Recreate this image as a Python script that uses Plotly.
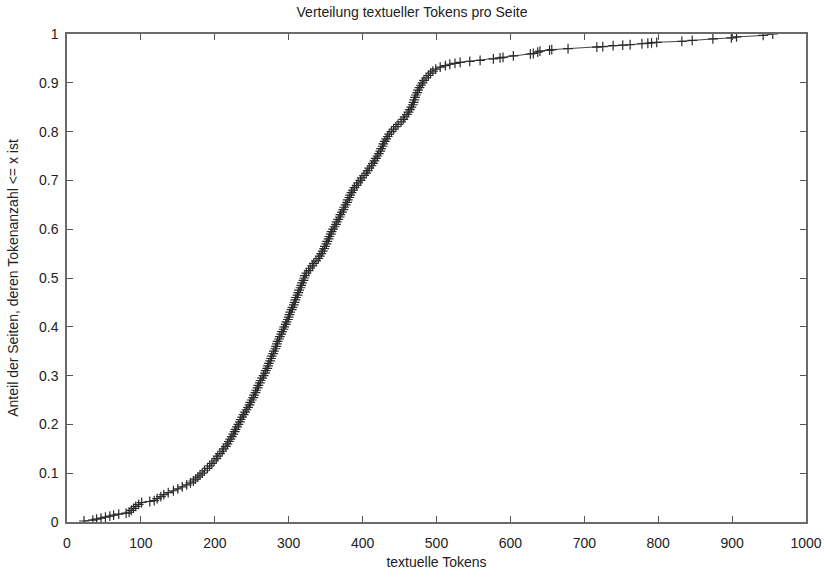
import plotly.graph_objects as go

# Sorted token counts per page (x) and cumulative share of pages (y)
tokens = [23, 35, 40, 46, 52, 58, 63, 70, 80, 84, 87, 90, 93, 97, 101, 112, 118, 122, 127, 131,
          137, 144, 150, 156, 162, 167, 171, 174, 177, 180, 183, 186, 190, 193, 196, 199, 202, 204,
          207, 210, 212, 215, 217, 219, 221, 223, 225, 227, 228, 230, 232, 234, 235, 237, 239, 241,
          243, 245, 247, 248, 250, 252, 253, 255, 256, 258, 259, 261, 262, 264, 266, 268, 269, 271,
          272, 273, 275, 276, 277, 279, 280, 282, 283, 284, 285, 287, 288, 290, 291, 293, 294, 296,
          297, 299, 300, 301, 302, 304, 305, 307, 308, 309, 310, 312, 313, 314, 316, 317, 318, 320,
          321, 322, 324, 327, 329, 332, 334, 337, 340, 342, 344, 346, 348, 349, 351, 352, 354, 355,
          357, 358, 360, 362, 364, 365, 367, 369, 370, 372, 374, 375, 377, 379, 380, 382, 383, 385,
          387, 389, 392, 394, 397, 399, 402, 405, 407, 409, 412, 414, 416, 418, 420, 422, 424, 425,
          427, 428, 430, 432, 434, 436, 439, 442, 445, 448, 452, 455, 457, 460, 462, 464, 466, 468,
          469, 470, 471, 472, 474, 475, 477, 479, 481, 483, 486, 489, 492, 495, 499, 505, 512, 518,
          525, 532, 545, 559, 577, 586, 590, 604, 627, 631, 637, 640, 653, 656, 678, 717, 725, 739,
          752, 762, 778, 786, 791, 798, 832, 846, 874, 899, 906, 942, 955]
share = [0.002, 0.004, 0.006, 0.008, 0.010, 0.012, 0.014, 0.016, 0.018, 0.020, 0.024, 0.028, 0.032,
         0.036, 0.040, 0.042, 0.044, 0.048, 0.052, 0.056, 0.060, 0.064, 0.068, 0.072, 0.076, 0.080,
         0.084, 0.088, 0.092, 0.096, 0.100, 0.105, 0.110, 0.115, 0.120, 0.125, 0.130, 0.135, 0.140,
         0.145, 0.150, 0.155, 0.160, 0.165, 0.170, 0.175, 0.180, 0.185, 0.190, 0.195, 0.200, 0.205,
         0.210, 0.215, 0.220, 0.225, 0.230, 0.235, 0.240, 0.245, 0.250, 0.255, 0.260, 0.265, 0.270,
         0.275, 0.280, 0.285, 0.290, 0.295, 0.300, 0.305, 0.310, 0.315, 0.320, 0.325, 0.330, 0.335,
         0.340, 0.345, 0.350, 0.355, 0.360, 0.365, 0.370, 0.375, 0.380, 0.385, 0.390, 0.395, 0.400,
         0.405, 0.410, 0.415, 0.420, 0.425, 0.430, 0.435, 0.440, 0.445, 0.450, 0.455, 0.460, 0.465,
         0.470, 0.475, 0.480, 0.485, 0.490, 0.495, 0.500, 0.505, 0.510, 0.515, 0.520, 0.525, 0.530,
         0.535, 0.540, 0.545, 0.550, 0.555, 0.560, 0.565, 0.570, 0.575, 0.580, 0.585, 0.590, 0.595,
         0.600, 0.605, 0.610, 0.615, 0.620, 0.625, 0.630, 0.635, 0.640, 0.645, 0.650, 0.655, 0.660,
         0.665, 0.670, 0.675, 0.680, 0.685, 0.690, 0.695, 0.700, 0.705, 0.710, 0.715, 0.720, 0.725,
         0.730, 0.735, 0.740, 0.745, 0.750, 0.755, 0.760, 0.765, 0.770, 0.775, 0.780, 0.785, 0.790,
         0.795, 0.800, 0.805, 0.810, 0.815, 0.820, 0.825, 0.830, 0.835, 0.840, 0.845, 0.850, 0.855,
         0.860, 0.865, 0.870, 0.875, 0.880, 0.885, 0.890, 0.895, 0.900, 0.905, 0.910, 0.915, 0.920,
         0.924, 0.928, 0.932, 0.935, 0.938, 0.940, 0.942, 0.944, 0.946, 0.949, 0.951, 0.952, 0.955,
         0.959, 0.960, 0.963, 0.965, 0.967, 0.968, 0.970, 0.973, 0.974, 0.976, 0.977, 0.978, 0.980,
         0.981, 0.982, 0.983, 0.985, 0.987, 0.990, 0.992, 0.994, 0.997, 1.000]

x_ticks = [0, 100, 200, 300, 400, 500, 600, 700, 800, 900, 1000]
y_ticks = [0, 0.1, 0.2, 0.3, 0.4, 0.5, 0.6, 0.7, 0.8, 0.9, 1]

title_text = "Verteilung textueller Tokens pro Seite"
x_title = "textuelle Tokens"
y_title = "Anteil der Seiten, deren Tokenanzahl <= x ist"

FONT = "Liberation Sans, Arial, Helvetica, sans-serif"
FS = 14

fig = go.Figure()
fig.add_trace(go.Scatter(
    x=tokens, y=share, mode="lines+markers",
    line=dict(color="#444444", width=1),
    marker=dict(symbol="cross-thin", size=7, line=dict(color="#2a2a2a", width=1.2), color="#2a2a2a"),
    showlegend=False,
))

axis_common = dict(
    showline=True, linecolor="#6a6a6a", linewidth=1.5, mirror="allticks",
    ticks="inside", ticklen=6, tickwidth=1.2, tickcolor="#555555",
    showgrid=False, zeroline=False, automargin=False,
    tickfont=dict(family=FONT, size=FS, color="#222222"),
)

fig.update_layout(
    width=824, height=578,
    margin=dict(l=67, r=18, t=34, b=56),
    paper_bgcolor="white", plot_bgcolor="white",
    title=dict(text=title_text, x=0.5, xanchor="center", y=0.988, yanchor="top",
               font=dict(family=FONT, size=FS, color="#222222")),
    xaxis=dict(range=[0, 1000], tickvals=x_ticks, ticktext=[str(v) for v in x_ticks],
               ticklabelstandoff=7,
               title=dict(text=x_title, font=dict(family=FONT, size=FS, color="#222222"), standoff=8),
               **axis_common),
    yaxis=dict(range=[0, 1], tickvals=y_ticks, ticktext=[f"{v:g}" for v in y_ticks],
               ticklabelstandoff=4,
               title=dict(text=y_title, font=dict(family=FONT, size=FS, color="#222222"), standoff=17),
               **axis_common),
)

fig.write_html("out.html")
